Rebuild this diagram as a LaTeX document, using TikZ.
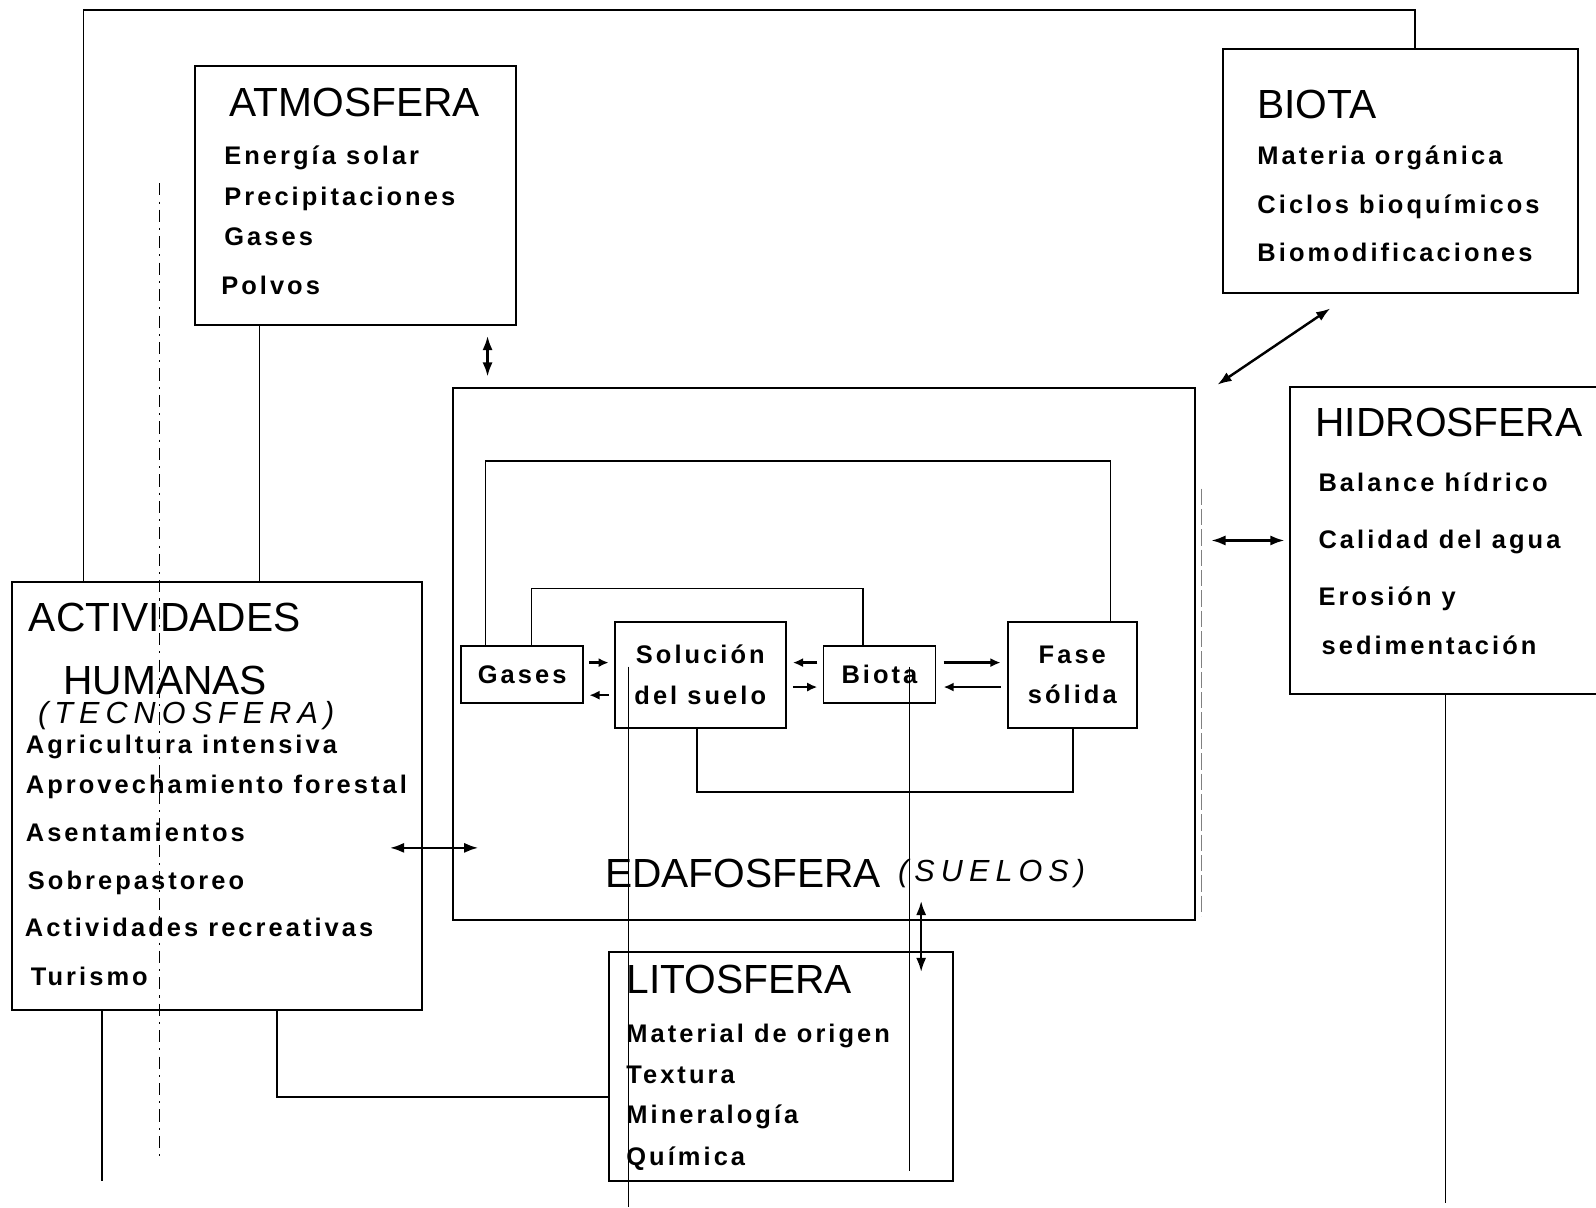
\documentclass[tikz,border=0pt]{standalone}
\usepackage{fontspec}
\setmainfont{Liberation Sans}
\newfontfamily\itemfont[LetterSpace=12]{Liberation Sans}
\newfontfamily\handfont[LetterSpace=20]{Liberation Sans}
\usetikzlibrary{arrows.meta,calc}
\begin{document}
\begin{tikzpicture}[x=0.5pt,y=-0.5pt,
 box/.style={draw, line width=1pt, inner sep=0pt, outer sep=0pt, anchor=north west},
 sz/.style 2 args={minimum width=#1*0.5pt, minimum height=#2*0.5pt},
 ttl/.style={anchor=base west, inner sep=0pt, font=\fontsize{20}{24}\selectfont},
 itm/.style={anchor=base west, inner sep=0pt, font=\itemfont\bfseries\fontsize{12.5}{15}\selectfont},
 ibox/.style={box, line width=0.9pt, align=center, font=\itemfont\bfseries\fontsize{12.5}{20}\selectfont},
 hand/.style={anchor=base west, inner sep=0pt, font=\handfont\itshape\fontsize{15}{18}\selectfont},
 link/.style={line width=0.8pt},
 dbl/.style={line width=1.2pt, {Latex[length=7pt,width=5pt]}-{Latex[length=7pt,width=5pt]}},
 arr/.style={line width=1.2pt, -{Latex[length=5pt,width=4.5pt]}},
 scan/.style={line width=0.45pt}]
\fill[white] (0,0) rectangle (1568,1186);
\useasboundingbox (0,0) rectangle (1568,1186);

% helper coordinates
\coordinate (top) at (0,10);
\coordinate (l1) at (0,453);
\coordinate (l2) at (0,578);
\coordinate (l3) at (0,778);
\coordinate (yh) at (0,531);
\coordinate (ya) at (0,833);
\coordinate (xl) at (905,0);
\coordinate (e1) at (100,1160);
\coordinate (e2) at (1420,1182);

% main boxes
\node[box, sz={315}{254}] (atm) at (192,65) {};
\node[box, sz={348}{240}] (bio) at (1202,48) {};
\node[box, sz={729}{523}] (edaf) at (445,381) {};
\node[box, sz={320}{302}] (hid) at (1267,380) {};
\node[box, sz={403}{420}] (act) at (12,572) {};
\node[box, sz={338}{225}] (lit) at (598,935) {};

% inner boxes
\node[ibox, sz={120}{56}] (gas) at (453,635) {Gases};
\node[ibox, sz={168}{104}] (sol) at (604,611) {Solución\\del suelo};
\node[ibox, sz={110}{56}] (bio2) at (809,635) {Biota};
\node[ibox, sz={127}{104}] (fas) at (990,611) {Fase\\sólida};

% texts
\node[ttl] (tatm) at (225,114) {ATMOSFERA};
\node[itm] (a1) at (220,162) {Energía solar};
\node[itm] (a2) at (220,202) {Precipitaciones};
\node[itm] (a3) at (220,241) {Gases};
\node[itm] (a4) at (217,289) {Polvos};

\node[ttl] (tbio) at (1235,116) {BIOTA};
\node[itm] (b1) at (1235,162) {Materia orgánica};
\node[itm] (b2) at (1235,210) {Ciclos bioquímicos};
\node[itm] (b3) at (1235,257) {Biomodificaciones};

\node[ttl] (thid) at (1292,429) {HIDROSFERA};
\node[itm] (h1) at (1295,483) {Balance hídrico};
\node[itm] (h2) at (1295,539) {Calidad del agua};
\node[itm] (h3) at (1295,595) {Erosión y};
\node[itm] (h4) at (1298,643) {sedimentación};

\node[ttl] (tact) at (28,620) {ACTIVIDADES};
\node[ttl] (tact2) at (62,682) {HUMANAS};
\node[hand] (tecn) at (37,711) {(TECNOSFERA)};
\node[itm] (c1) at (25,740) {Agricultura intensiva};
\node[itm] (c2) at (25,780) {Aprovechamiento forestal};
\node[itm] (c3) at (25,827) {Asentamientos};
\node[itm] (c4) at (27,874) {Sobrepastoreo};
\node[itm] (c5) at (24,920) {Actividades recreativas};
\node[itm] (c6) at (30,968) {Turismo};

\node[ttl] (tedaf) at (594,872) {EDAFOSFERA};
\node[hand] (suel) at (882,866) {(SUELOS)};

\node[ttl] (tlit) at (615,976) {LITOSFERA};
\node[itm] (m1) at (615,1024) {Material de origen};
\node[itm] (m2) at (615,1064) {Textura};
\node[itm] (m3) at (615,1104) {Mineralogía};
\node[itm] (m4) at (615,1145) {Química};

% scan marks
\draw[scan] (617,655) -- (617,1186);
\draw[scan] (893,655) -- (893,1150);
\draw[scan, dash pattern=on 6pt off 3pt on 1pt off 3pt] (157,180) -- (157,1140);
\draw[scan, gray, dash pattern=on 8pt off 2pt] (1180,480) -- (1180,900);

% outer frame connecting ACTIVIDADES and BIOTA
\draw[link] ([xshift=35pt]act.north west) -- ([xshift=35pt]act.north west |- top)
  -- ([xshift=94pt]bio.north west |- top) -- ([xshift=94pt]bio.north west);
% connectors
\draw[link] ([xshift=31.5pt]atm.south west) -- ([xshift=31.5pt]atm.south west |- act.north);
\draw[link] ([xshift=44pt]act.south west) -- (e1);
\draw[link] ([xshift=76.5pt]hid.south west) -- (e2);
\draw[link] ([xshift=130pt]act.south west) |- ([yshift=-15.25pt]lit.west);

% inner loops
\draw[link] ([xshift=12pt]gas.north west) -- ([xshift=12pt]gas.north west |- l1)
  -- ([xshift=50.5pt]fas.north west |- l1) -- ([xshift=50.5pt]fas.north west);
\draw[link] ([xshift=34.5pt]gas.north west) -- ([xshift=34.5pt]gas.north west |- l2)
  -- ([xshift=19.5pt]bio2.north west |- l2) -- ([xshift=19.5pt]bio2.north west);
\draw[link] ([xshift=40.5pt]sol.south west) -- ([xshift=40.5pt]sol.south west |- l3)
  -- ([xshift=32pt]fas.south west |- l3) -- ([xshift=32pt]fas.south west);

% inner arrows
\draw[arr] ([xshift=3pt,yshift=6pt]gas.east) -- ([xshift=-3pt,yshift=6pt]sol.west);
\draw[arr] ([xshift=-3pt,yshift=-10pt]sol.west) -- ([xshift=3pt,yshift=-10pt]gas.east);
\draw[arr] ([xshift=-3pt,yshift=6pt]bio2.west) -- ([xshift=3.5pt,yshift=6pt]sol.east);
\draw[arr] ([xshift=3.5pt,yshift=-6pt]sol.east) -- ([xshift=-3pt,yshift=-6pt]bio2.west);
\draw[arr] ([xshift=4pt,yshift=6pt]bio2.east) -- ([xshift=-3.5pt,yshift=6pt]fas.west);
\draw[arr] ([xshift=-3.5pt,yshift=-6pt]fas.west) -- ([xshift=4pt,yshift=-6pt]bio2.east);

% double arrows between spheres
\draw[dbl] ([xshift=143.5pt,yshift=-5.5pt]atm.south west) -- ([xshift=17pt,yshift=5.5pt]edaf.north west);
\draw[dbl] ([xshift=11pt,yshift=1.5pt]edaf.north east) -- ([xshift=52.5pt,yshift=-7.5pt]bio.south west);
\draw[dbl] ([xshift=8pt]edaf.east |- yh) -- ([xshift=-2.5pt]hid.west |- yh);
\draw[dbl] ([xshift=-16pt]act.east |- ya) -- ([xshift=12.5pt]edaf.west |- ya);
\draw[dbl] ([yshift=9.5pt]edaf.south -| xl) -- ([yshift=-10pt]lit.north -| xl);
\end{tikzpicture}
\end{document}
